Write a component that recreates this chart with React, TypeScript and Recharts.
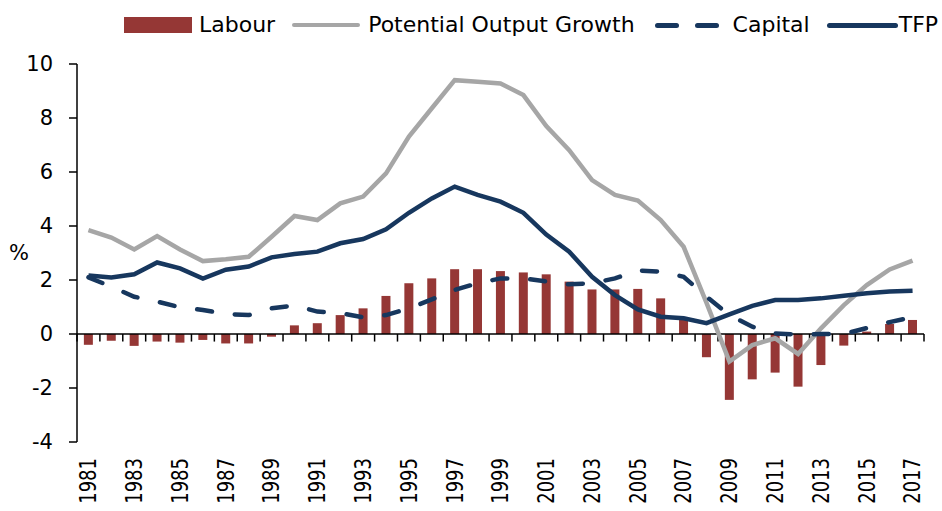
import { Bar, ComposedChart, Line, ReferenceLine, XAxis, YAxis } from "recharts";

const years = [
  "1981", "1982", "1983", "1984", "1985", "1986", "1987", "1988", "1989", "1990",
  "1991", "1992", "1993", "1994", "1995", "1996", "1997", "1998", "1999", "2000",
  "2001", "2002", "2003", "2004", "2005", "2006", "2007", "2008", "2009", "2010",
  "2011", "2012", "2013", "2014", "2015", "2016", "2017",
];

const labour = [
  -0.4, -0.25, -0.44, -0.28, -0.32, -0.22, -0.35, -0.35, -0.1, 0.32,
  0.4, 0.7, 0.95, 1.41, 1.88, 2.06, 2.4, 2.4, 2.33, 2.28,
  2.21, 1.94, 1.65, 1.65, 1.67, 1.32, 0.52, -0.86, -2.44, -1.68,
  -1.43, -1.95, -1.15, -0.43, 0.09, 0.37, 0.52,
];

const potential = [
  3.85, 3.57, 3.13, 3.63, 3.13, 2.7, 2.77, 2.86, 3.6, 4.37,
  4.22, 4.84, 5.09, 5.95, 7.31, 8.36, 9.4, 9.34, 9.28, 8.85,
  7.7, 6.81, 5.7, 5.15, 4.94, 4.22, 3.23, 1.15, -1.02, -0.41,
  -0.16, -0.74, 0.21, 1.07, 1.81, 2.39, 2.72,
];

const capital = [
  2.1, 1.75, 1.38, 1.2, 0.99, 0.89, 0.74, 0.7, 0.95, 1.06,
  0.83, 0.77, 0.62, 0.7, 0.95, 1.28, 1.63, 1.88, 2.06, 2.06,
  1.95, 1.84, 1.88, 2.06, 2.35, 2.31, 2.12, 1.38, 0.7, 0.27,
  0.02, -0.02, 0.0, 0.0, 0.22, 0.44, 0.62,
];

const tfp = [
  2.17, 2.09, 2.21, 2.65, 2.43, 2.05, 2.38, 2.5, 2.84, 2.96,
  3.05, 3.36, 3.52, 3.88, 4.49, 5.02, 5.46, 5.15, 4.9, 4.49,
  3.68, 3.05, 2.12, 1.44, 0.91, 0.64, 0.58, 0.4, 0.73, 1.04,
  1.26, 1.26, 1.32, 1.42, 1.51, 1.57, 1.6,
];

const yTicks = [-4, -2, 0, 2, 4, 6, 8, 10];

const RED = "#953735";
const GREY = "#A6A6A6";
const NAVY = "#17375E";
const FONT = "'DejaVu Sans', sans-serif";

const data = years.map((year, i) => ({
  year,
  idx: i + 0.5,
  labour: labour[i],
  potential: potential[i],
  capital: capital[i],
  tfp: tfp[i],
}));

// boundaries between years, where the small axis ticks sit
const boundaries = years.map((_, i) => i).concat(years.length);

function YearTick({ x, y, payload }: any) {
  return (
    <g transform={`translate(${x},${y})`}>
      <text
        transform="rotate(-90) scale(1,1.3)"
        textAnchor="end"
        dominantBaseline="central"
        fontFamily={FONT}
        fontSize={18}
        fill="#000"
      >
        {payload.value}
      </text>
    </g>
  );
}

function LegendBar() {
  const text = { fontFamily: FONT, fontSize: 22, color: "#000", lineHeight: "24px" };
  return (
    <div style={{ position: "absolute", left: 124, top: 13, display: "flex", alignItems: "center" }}>
      <div style={{ width: 68, height: 16, background: RED }} />
      <span style={{ ...text, marginLeft: 7 }}>Labour</span>
      <div style={{ width: 68, height: 4.5, borderRadius: 3, background: GREY, marginLeft: 17 }} />
      <span style={{ ...text, marginLeft: 8 }}>Potential Output Growth</span>
      <div style={{ width: 24, height: 5, borderRadius: 3, background: NAVY, marginLeft: 20 }} />
      <div style={{ width: 24, height: 5, borderRadius: 3, background: NAVY, marginLeft: 16 }} />
      <span style={{ ...text, marginLeft: 14 }}>Capital</span>
      <div style={{ width: 71, height: 5, borderRadius: 3, background: NAVY, marginLeft: 17 }} />
      <span style={{ ...text, marginLeft: 1 }}>TFP</span>
    </div>
  );
}

export default function App() {
  return (
    <div style={{ position: "absolute", left: 0, top: 0, width: 942, height: 511, background: "#fff" }}>
      <LegendBar />
      <ComposedChart
        width={942}
        height={511}
        data={data}
        margin={{ top: 64, right: 18, bottom: 0, left: 0 }}
        barCategoryGap="30%"
      >
        <XAxis
          dataKey="year"
          interval={1}
          axisLine={false}
          tickLine={false}
          tickSize={0}
          tickMargin={16}
          height={69}
          tick={<YearTick />}
        />
        <XAxis xAxisId="grid" type="number" dataKey="idx" domain={[0, years.length]} hide />
        <YAxis
          domain={[-4, 10]}
          ticks={yTicks}
          width={77}
          tickSize={8}
          tickMargin={16}
          axisLine={{ stroke: "#000", strokeWidth: 1.5 }}
          tickLine={{ stroke: "#000", strokeWidth: 1.5 }}
          tick={{ fontFamily: FONT, fontSize: 21, fill: "#000" }}
          label={{ value: "%", position: "insideLeft", offset: 9, fontFamily: FONT, fontSize: 21, fill: "#000" }}
        />
        <Bar dataKey="labour" name="Labour" fill={RED} isAnimationActive={false} />
        <ReferenceLine y={0} stroke="#000" strokeWidth={1.5} />
        {boundaries.map((b) => (
          <ReferenceLine
            key={b}
            xAxisId="grid"
            segment={[
              { x: b, y: 0 },
              { x: b, y: -0.28 },
            ]}
            stroke="#000"
            strokeWidth={1.5}
          />
        ))}
        <Line
          type="linear"
          dataKey="potential"
          name="Potential Output Growth"
          stroke={GREY}
          strokeWidth={4.5}
          dot={false}
          isAnimationActive={false}
        />
        <Line
          type="linear"
          dataKey="capital"
          name="Capital"
          stroke={NAVY}
          strokeWidth={4.5}
          strokeDasharray="15 23"
          strokeLinecap="round"
          dot={false}
          isAnimationActive={false}
        />
        <Line
          type="linear"
          dataKey="tfp"
          name="TFP"
          stroke={NAVY}
          strokeWidth={4.5}
          dot={false}
          isAnimationActive={false}
        />
      </ComposedChart>
    </div>
  );
}
